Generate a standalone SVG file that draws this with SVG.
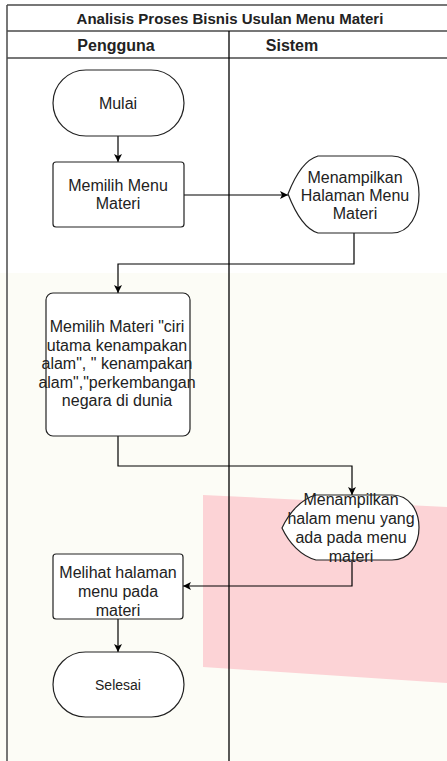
<svg xmlns="http://www.w3.org/2000/svg" width="447" height="761" viewBox="0 0 447 761">
<style>
.lane{fill:none;stroke:#4a4a4a;stroke-width:1.5}
.node{fill:#fff;stroke:#222;stroke-width:1.2}
.edge{fill:none;stroke:#000;stroke-width:1.2}
text{font-family:"Liberation Sans",Arial,sans-serif;fill:#222;text-anchor:middle}
.t{font-size:16px}
.h{font-size:15px;font-weight:bold}
.h2{font-size:16px;font-weight:bold}
</style>
<defs>
<marker id="arr" markerWidth="10" markerHeight="10" refX="9" refY="5" orient="auto" markerUnits="userSpaceOnUse">
<path d="M1,1 L9,5 L1,9 L3,5 Z" fill="#000"/>
</marker>
</defs>
<rect x="0" y="0" width="447" height="761" fill="#fff"/>
<rect x="0" y="273" width="447" height="488" fill="#fcfcf6"/>
<polygon points="203,495 447,507 447,683 203,667" fill="#fcd3d6"/>
<g id="pool">
<line class="lane" x1="7" y1="5" x2="447" y2="5"/>
<line class="lane" x1="7" y1="5" x2="7" y2="761"/>
<line class="lane" x1="7" y1="31" x2="447" y2="31"/>
<line class="lane" x1="7" y1="58" x2="447" y2="58"/>
<line x1="229" y1="31" x2="229" y2="761" stroke="#000" stroke-width="1.3"/>
<text class="h" x="230" y="23.5">Analisis Proses Bisnis Usulan Menu Materi</text>
<text class="h2" x="116" y="50.5">Pengguna</text>
<text class="h2" x="292" y="50.5">Sistem</text>
</g>
<g id="edges">
<path class="edge" d="M118,136 L118,162" marker-end="url(#arr)"/>
<path class="edge" d="M184,195 L288,195" marker-end="url(#arr)"/>
<path class="edge" d="M354,233 L354,264 L118,264 L118,293" marker-end="url(#arr)"/>
<path class="edge" d="M118,436 L118,466 L352,466 L352,495" marker-end="url(#arr)"/>
<path class="edge" d="M352,560 L352,586 L183,586" marker-end="url(#arr)"/>
<path class="edge" d="M118,619 L118,652" marker-end="url(#arr)"/>
</g>
<g id="mulai">
<rect class="node" x="53" y="70" width="131" height="66" rx="33" ry="33"/>
<text class="t" x="118" y="108.5">Mulai</text>
</g>
<g id="memilih-menu">
<rect class="node" x="53" y="162" width="131" height="65" rx="3"/>
<text class="t" x="118" y="190.5">Memilih Menu</text>
<text class="t" x="118" y="208.5">Materi</text>
</g>
<g id="tampil-menu">
<path class="node" d="M288,194 C295,176 304,160 318,156 L392,156 C428,156 428,233 392,233 L318,233 C304,229 295,212 288,194 Z"/>
<text class="t" x="355" y="182.5">Menampilkan</text>
<text class="t" x="355" y="200.5">Halaman Menu</text>
<text class="t" x="355" y="218.5">Materi</text>
</g>
<g id="memilih-materi">
<rect class="node" x="46" y="293" width="144" height="143" rx="7"/>
<text class="t" x="117" y="332">Memilih Materi "ciri</text>
<text class="t" x="117" y="350.5">utama kenampakan</text>
<text class="t" x="117" y="369">alam", " kenampakan</text>
<text class="t" x="117" y="387.5">alam","perkembangan</text>
<text class="t" x="117" y="406">negara di dunia</text>
</g>
<g id="tampil-halaman">
<path class="node" d="M282,528 C289,513 301,499 316,495 L392,495 C428,495 428,560 392,560 L316,560 C301,556 289,543 282,528 Z"/>
<text class="t" x="351" y="504.5">Menampilkan</text>
<text class="t" x="351" y="523.5">halam menu yang</text>
<text class="t" x="351" y="542.5">ada pada menu</text>
<text class="t" x="351" y="561.5">materi</text>
</g>
<g id="melihat">
<rect class="node" x="53" y="554" width="130" height="65" rx="3"/>
<text class="t" x="118" y="577.5">Melihat halaman</text>
<text class="t" x="118" y="596.5">menu pada</text>
<text class="t" x="118" y="615.5">materi</text>
</g>
<g id="selesai">
<rect class="node" x="53" y="652" width="131" height="65" rx="32.5" ry="32.5"/>
<text x="118" y="690" style="font-size:14px">Selesai</text>
</g>
</svg>
